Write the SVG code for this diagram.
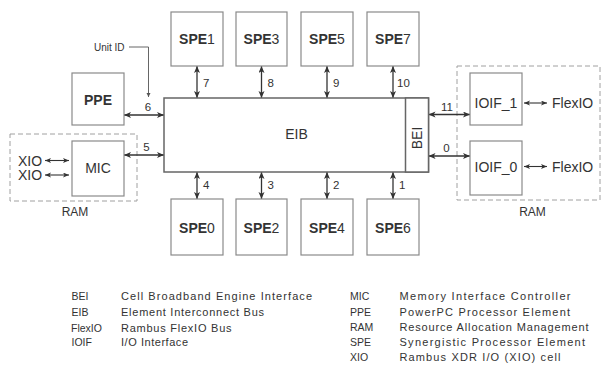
<svg xmlns="http://www.w3.org/2000/svg" width="603" height="365" viewBox="0 0 603 365">
<style>
text{font-family:"Liberation Sans",Arial,Helvetica,sans-serif;fill:#333}
.box{fill:#fff;stroke:#8a8a8a;stroke-width:1.2}
.eib{fill:#fff;stroke:#666;stroke-width:1.5}
.dash{fill:none;stroke:#a0a0a0;stroke-width:1;stroke-dasharray:5,3}
.lbl{font-size:14px;text-anchor:middle}
.spe{font-size:14px;text-anchor:middle}
.num{font-size:11.5px}
.conn{stroke:#333;stroke-width:1.3;fill:none}
.small{stroke:#333;stroke-width:1.1;fill:none}
.leg{font-size:11px}
.ab{font-size:10.5px}
</style>
<defs>
<marker id="ah" markerUnits="userSpaceOnUse" markerWidth="8" markerHeight="7" refX="7" refY="3" orient="auto-start-reverse">
<path d="M0,0 L7,3 L0,6 L1.8,3 z" fill="#333"/>
</marker>
<marker id="as" markerUnits="userSpaceOnUse" markerWidth="7" markerHeight="6" refX="6" refY="2.5" orient="auto-start-reverse">
<path d="M0,0 L6,2.5 L0,5 L1.5,2.5 z" fill="#333"/>
</marker>
<marker id="at" markerUnits="userSpaceOnUse" markerWidth="5" markerHeight="5" refX="4" refY="2" orient="auto">
<path d="M0,0 L4,2 L0,4 z" fill="#555"/>
</marker>
</defs>

<rect class="dash" x="10" y="134" width="127" height="67"/>
<rect class="dash" x="457" y="66" width="143" height="134"/>

<g id="connectors">
<line class="conn" x1="197" y1="66" x2="197" y2="98" marker-start="url(#ah)" marker-end="url(#ah)"/>
<line class="conn" x1="261.5" y1="66" x2="261.5" y2="98" marker-start="url(#ah)" marker-end="url(#ah)"/>
<line class="conn" x1="327" y1="66" x2="327" y2="98" marker-start="url(#ah)" marker-end="url(#ah)"/>
<line class="conn" x1="393" y1="66" x2="393" y2="98" marker-start="url(#ah)" marker-end="url(#ah)"/>
<line class="conn" x1="197" y1="172" x2="197" y2="199" marker-start="url(#ah)" marker-end="url(#ah)"/>
<line class="conn" x1="261.5" y1="172" x2="261.5" y2="199" marker-start="url(#ah)" marker-end="url(#ah)"/>
<line class="conn" x1="327" y1="172" x2="327" y2="199" marker-start="url(#ah)" marker-end="url(#ah)"/>
<line class="conn" x1="393" y1="172" x2="393" y2="199" marker-start="url(#ah)" marker-end="url(#ah)"/>
<line class="conn" x1="124" y1="115" x2="164" y2="115" marker-start="url(#ah)" marker-end="url(#ah)"/>
<line class="conn" x1="124" y1="155" x2="164" y2="155" marker-start="url(#ah)" marker-end="url(#ah)"/>
<line class="conn" x1="428.5" y1="114.5" x2="470" y2="114.5" marker-start="url(#ah)" marker-end="url(#ah)"/>
<line class="conn" x1="428.5" y1="156" x2="470" y2="156" marker-start="url(#ah)" marker-end="url(#ah)"/>
<line class="small" x1="45" y1="160.5" x2="69" y2="160.5" marker-start="url(#as)" marker-end="url(#as)"/>
<line class="small" x1="45" y1="175" x2="69" y2="175" marker-start="url(#as)" marker-end="url(#as)"/>
<line class="small" x1="524" y1="103" x2="547" y2="103" marker-start="url(#as)" marker-end="url(#as)"/>
<line class="small" x1="524" y1="166.5" x2="547" y2="166.5" marker-start="url(#as)" marker-end="url(#as)"/>
<polyline points="129,47 148.5,47 148.5,97" fill="none" stroke="#555" stroke-width="0.9" marker-end="url(#at)"/>
</g>

<text class="num" x="203" y="87">7</text>
<text class="num" x="267.5" y="87">8</text>
<text class="num" x="333" y="87">9</text>
<text class="num" x="397" y="87">10</text>
<text class="num" x="203" y="189">4</text>
<text class="num" x="267.5" y="189">3</text>
<text class="num" x="333" y="189">2</text>
<text class="num" x="399" y="189">1</text>
<text class="num" x="148" y="110.5" text-anchor="middle">6</text>
<text class="num" x="146.5" y="151" text-anchor="middle">5</text>
<text class="num" x="447" y="110.5" text-anchor="middle">11</text>
<text class="num" x="446.5" y="152" text-anchor="middle">0</text>
<text x="94" y="50.5" font-size="10" fill="#555">Unit ID</text>

<g id="eib">
<rect class="eib" x="164" y="98" width="264.5" height="74"/>
<text class="lbl" x="296.5" y="139">EIB</text>
</g>
<g id="bei">
<rect class="eib" x="405.5" y="98" width="23" height="74"/>
<text class="lbl" font-size="13" transform="translate(421.5,138) rotate(-90)" x="0" y="0">BEI</text>
</g>

<g id="spe1"><rect class="box" x="171" y="12" width="52" height="54"/><text class="spe" x="197" y="44"><tspan font-weight="bold">SPE</tspan>1</text></g>
<g id="spe3"><rect class="box" x="236" y="12" width="51" height="54"/><text class="spe" x="261.5" y="44"><tspan font-weight="bold">SPE</tspan>3</text></g>
<g id="spe5"><rect class="box" x="301" y="12" width="52" height="54"/><text class="spe" x="327" y="44"><tspan font-weight="bold">SPE</tspan>5</text></g>
<g id="spe7"><rect class="box" x="367" y="12" width="52" height="54"/><text class="spe" x="393" y="44"><tspan font-weight="bold">SPE</tspan>7</text></g>
<g id="spe0"><rect class="box" x="171" y="199" width="52" height="56"/><text class="spe" x="197" y="233"><tspan font-weight="bold">SPE</tspan>0</text></g>
<g id="spe2"><rect class="box" x="236" y="199" width="51" height="56"/><text class="spe" x="261.5" y="233"><tspan font-weight="bold">SPE</tspan>2</text></g>
<g id="spe4"><rect class="box" x="301" y="199" width="52" height="56"/><text class="spe" x="327" y="233"><tspan font-weight="bold">SPE</tspan>4</text></g>
<g id="spe6"><rect class="box" x="367" y="199" width="52" height="56"/><text class="spe" x="393" y="233"><tspan font-weight="bold">SPE</tspan>6</text></g>

<g id="ppe"><rect class="box" x="72" y="73" width="52" height="52"/><text class="lbl" x="98" y="105" font-weight="bold">PPE</text></g>
<g id="mic"><rect class="box" x="72" y="141" width="52" height="55"/><text class="lbl" x="98" y="173" font-size="15">MIC</text></g>
<g id="ioif1"><rect class="box" x="470" y="73" width="52" height="52"/><text class="lbl" x="496" y="108" font-size="13">IOIF_1</text></g>
<g id="ioif0"><rect class="box" x="470" y="141" width="52" height="54"/><text class="lbl" x="496" y="172" font-size="13">IOIF_0</text></g>

<text x="18" y="165.5" font-size="14">XIO</text>
<text x="18" y="180" font-size="14">XIO</text>
<text x="552" y="108" font-size="14">FlexIO</text>
<text x="552" y="171.5" font-size="14">FlexIO</text>
<text x="75" y="216" font-size="12" text-anchor="middle">RAM</text>
<text x="532.5" y="216" font-size="12" text-anchor="middle">RAM</text>

<g id="legend">
<text class="ab" x="71.5" y="300">BEI</text>
<text class="ab" x="71.5" y="316">EIB</text>
<text class="ab" x="71" y="332">FlexIO</text>
<text class="ab" x="71.5" y="346">IOIF</text>
<text class="leg" x="121" y="300" textLength="191" lengthAdjust="spacing">Cell Broadband Engine Interface</text>
<text class="leg" x="121" y="316" textLength="143" lengthAdjust="spacing">Element Interconnect Bus</text>
<text class="leg" x="121" y="332" textLength="110.5" lengthAdjust="spacing">Rambus FlexIO Bus</text>
<text class="leg" x="121" y="346" textLength="67" lengthAdjust="spacing">I/O Interface</text>
<text class="ab" x="350" y="300">MIC</text>
<text class="ab" x="350" y="316">PPE</text>
<text class="ab" x="350" y="331">RAM</text>
<text class="ab" x="350" y="346">SPE</text>
<text class="ab" x="350" y="361">XIO</text>
<text class="leg" x="399.5" y="300" textLength="171" lengthAdjust="spacing">Memory Interface Controller</text>
<text class="leg" x="399.5" y="316" textLength="170.5" lengthAdjust="spacing">PowerPC Processor Element</text>
<text class="leg" x="399.5" y="331" textLength="189" lengthAdjust="spacing">Resource Allocation Management</text>
<text class="leg" x="399.5" y="346" textLength="185.5" lengthAdjust="spacing">Synergistic Processor Element</text>
<text class="leg" x="399.5" y="361" textLength="161" lengthAdjust="spacing">Rambus XDR I/O (XIO) cell</text>
</g>
</svg>
